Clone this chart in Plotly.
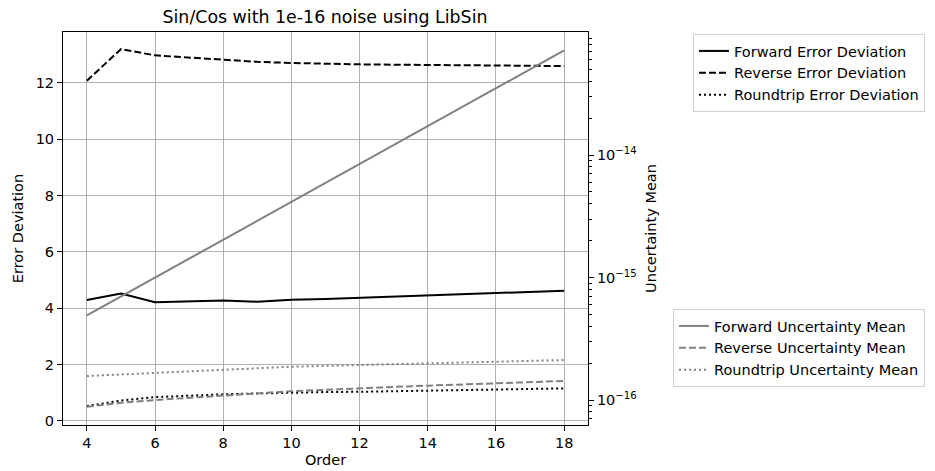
import plotly.graph_objects as go

order = [4, 5, 6, 7, 8, 9, 10, 11, 12, 13, 14, 15, 16, 17, 18]

fwd_err_dev = [4.29, 4.52, 4.21, 4.24, 4.27, 4.23, 4.3, 4.33, 4.37, 4.42, 4.46, 4.51, 4.55, 4.59, 4.62]
rev_err_dev = [12.08, 13.2, 12.98, 12.9, 12.82, 12.75, 12.71, 12.68, 12.66, 12.65, 12.64, 12.63, 12.62, 12.61, 12.6]
rt_err_dev = [0.52, 0.72, 0.84, 0.9, 0.94, 0.97, 1.0, 1.02, 1.03, 1.05, 1.07, 1.09, 1.11, 1.13, 1.15]

fwd_unc_mean = [4.9e-16, 7.0e-16, 1.0e-15, 1.43e-15, 2.04e-15, 2.91e-15, 4.15e-15, 5.92e-15,
                8.45e-15, 1.21e-14, 1.72e-14, 2.45e-14, 3.5e-14, 5.0e-14, 7.14e-14]
rev_unc_mean = [8.8e-17, 9.5e-17, 1.0e-16, 1.04e-16, 1.08e-16, 1.13e-16, 1.18e-16, 1.21e-16,
                1.25e-16, 1.28e-16, 1.31e-16, 1.34e-16, 1.37e-16, 1.4e-16, 1.43e-16]
rt_unc_mean = [1.57e-16, 1.62e-16, 1.67e-16, 1.72e-16, 1.78e-16, 1.83e-16, 1.87e-16, 1.9e-16,
               1.93e-16, 1.96e-16, 1.99e-16, 2.02e-16, 2.06e-16, 2.09e-16, 2.12e-16]

FONT = "DejaVu Sans"
FS = 14.5
DASH = "7px,3px"
DOT = "2px,3px"

# the page body has an 8px margin, so the figure is drawn 8px smaller
OFF = 8
W, H = 935 - OFF, 471 - OFF

fig = go.Figure()

err_series = [
    ("Forward Error Deviation", fwd_err_dev, "solid"),
    ("Reverse Error Deviation", rev_err_dev, DASH),
    ("Roundtrip Error Deviation", rt_err_dev, DOT),
]
unc_series = [
    ("Forward Uncertainty Mean", fwd_unc_mean, "solid"),
    ("Reverse Uncertainty Mean", rev_unc_mean, DASH),
    ("Roundtrip Uncertainty Mean", rt_unc_mean, DOT),
]

for name, vals, dash in unc_series:
    fig.add_trace(go.Scatter(
        x=order, y=vals, name=name, mode="lines", yaxis="y2", legend="legend2",
        line=dict(color="#808080", width=2, dash=dash),
    ))

for name, vals, dash in err_series:
    fig.add_trace(go.Scatter(
        x=order, y=vals, name=name, mode="lines", legend="legend",
        line=dict(color="black", width=2, dash=dash),
    ))

axis_common = dict(
    showline=True, linecolor="black", linewidth=1, automargin=False,
    ticks="outside", ticklen=5, tickcolor="black",
    tickfont=dict(size=FS, color="black"), zeroline=False,
)

fig.update_layout(
    width=W, height=H,
    paper_bgcolor="white", plot_bgcolor="white",
    font=dict(family=FONT, size=FS, color="black"),
    margin=dict(l=63 - OFF, r=935 - 588, t=32 - OFF, b=471 - 425, autoexpand=False),
    title=dict(text="Sin/Cos with 1e-16 noise using LibSin", x=(325 - OFF) / W, xanchor="center",
               y=1 - (17 - OFF) / H, yanchor="middle", font=dict(size=17.4)),
    xaxis=dict(range=[3.3, 18.7], tickvals=[4, 6, 8, 10, 12, 14, 16, 18],
               title=dict(text="Order", standoff=4, font=dict(size=FS)), mirror=True,
               showgrid=True, gridcolor="#b0b0b0", gridwidth=1, **axis_common),
    yaxis=dict(range=[-0.15, 13.81], tickvals=[0, 2, 4, 6, 8, 10, 12],
               title=dict(text="Error Deviation", standoff=8, font=dict(size=FS)),
               showgrid=True, gridcolor="#b0b0b0", gridwidth=1, **axis_common),
    yaxis2=dict(type="log", overlaying="y", side="right", range=[-16.204, -12.996],
                tickvals=[1e-16, 1e-15, 1e-14],
                ticktext=["10<sup>−16</sup>", "10<sup>−15</sup>", "10<sup>−14</sup>"],
                title=dict(text="Uncertainty Mean", standoff=10, font=dict(size=FS)),
                showgrid=False,
                minor=dict(ticks="outside", ticklen=3, tickcolor="black",
                           tickvals=[6e-17, 7e-17, 8e-17, 9e-17,
                                     2e-16, 3e-16, 4e-16, 5e-16, 6e-16, 7e-16, 8e-16, 9e-16,
                                     2e-15, 3e-15, 4e-15, 5e-15, 6e-15, 7e-15, 8e-15, 9e-15,
                                     2e-14, 3e-14, 4e-14, 5e-14, 6e-14, 7e-14, 8e-14, 9e-14],
                           showgrid=False),
                **axis_common),
    legend=dict(x=(693 - 63) / 525, y=(425 - 34) / 393, xanchor="left", yanchor="top",
                bgcolor="white", bordercolor="#d0d0d0", borderwidth=1,
                font=dict(size=FS), tracegroupgap=0, itemwidth=30),
    legend2=dict(x=(673 - 63) / 525, y=(425 - 309) / 393, xanchor="left", yanchor="top",
                 bgcolor="white", bordercolor="#d0d0d0", borderwidth=1,
                 font=dict(size=FS), tracegroupgap=0, itemwidth=30),
)

fig.write_html("out.html")
